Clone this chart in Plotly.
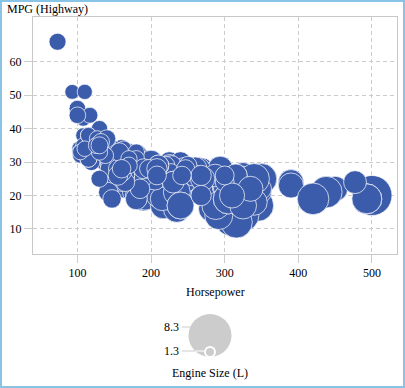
import plotly.graph_objects as go

# ---------------- data (Horsepower, MPG highway, engine size in litres) ----------------
horsepower = [
    265, 200, 200, 270, 225, 225, 290, 170, 170, 220,
    220, 220, 250, 300, 330, 340, 450, 180, 225, 250,
    184, 325, 184, 225, 184, 225, 325, 325, 438, 333,
    184, 225, 175, 205, 205, 240, 185, 275, 295, 255,
    255, 275, 275, 320, 345, 295, 295, 275, 165, 103,
    103, 140, 140, 180, 240, 145, 200, 180, 240, 190,
    185, 350, 350, 295, 175, 285, 300, 150, 180, 220,
    150, 200, 200, 250, 250, 215, 215, 230, 132, 150,
    232, 150, 215, 500, 210, 215, 310, 232, 210, 201,
    130, 130, 170, 155, 224, 193, 260, 280, 193, 231,
    143, 275, 295, 325, 190, 175, 285, 117, 127, 93,
    73, 160, 240, 240, 160, 160, 240, 240, 160, 316,
    103, 138, 138, 170, 194, 138, 172, 173, 260, 280,
    255, 340, 340, 280, 315, 192, 235, 294, 390, 294,
    390, 294, 390, 294, 195, 210, 190, 138, 104, 124,
    195, 192, 195, 282, 217, 174, 235, 235, 230, 225,
    220, 300, 215, 290, 300, 302, 300, 232, 280, 239,
    200, 148, 160, 200, 142, 197, 238, 189, 215, 349,
    302, 493, 215, 302, 221, 302, 292, 288, 275, 302,
    302, 493, 493, 192, 349, 224, 302, 210, 155, 115,
    163, 147, 210, 160, 120, 271, 215, 140, 205, 126,
    165, 175, 245, 265, 287, 240, 240, 305, 180, 245,
    305, 180, 185, 140, 175, 200, 260, 130, 185, 340,
    340, 315, 477, 315, 228, 258, 210, 220, 250, 140,
    140, 143, 108, 108, 165, 165, 227, 300, 165, 165,
    165, 155, 119, 155, 185, 165, 110, 108, 130, 157,
    210, 210, 180, 138, 130, 161, 230, 235, 325, 240,
    230, 142, 240, 115, 180, 100, 115, 115, 170, 270,
    335, 420, 310, 190, 170, 197, 247, 300, 208, 268,
    208, 268, 242, 117, 130, 100, 115, 115, 127, 140,
    130, 104, 110, 130, 126, 132, 130, 147, 155, 160,
]
mpg_highway = [
    23, 31, 29, 28, 24, 24, 24, 31, 30, 28,
    27, 27, 24, 23, 24, 20, 22, 28, 28, 28,
    23, 22, 28, 30, 28, 30, 26, 26, 21, 24,
    28, 28, 30, 29, 29, 28, 26, 22, 18, 24,
    25, 26, 26, 25, 17, 18, 18, 21, 22, 34,
    34, 37, 37, 32, 27, 33, 30, 31, 27, 20,
    25, 25, 25, 18, 24, 20, 19, 29, 27, 29,
    30, 30, 28, 27, 22, 25, 25, 19, 36, 30,
    28, 27, 24, 20, 19, 19, 13, 19, 19, 22,
    36, 35, 33, 28, 25, 29, 24, 24, 23, 18,
    28, 21, 18, 14, 20, 24, 20, 36, 37, 51,
    66, 34, 30, 25, 26, 24, 22, 25, 30, 12,
    33, 34, 32, 27, 26, 31, 29, 25, 26, 26,
    26, 23, 23, 22, 19, 26, 26, 28, 24, 28,
    24, 26, 23, 28, 21, 22, 19, 30, 32, 34,
    22, 19, 25, 16, 17, 21, 18, 16, 24, 29,
    25, 23, 25, 25, 23, 18, 18, 26, 24, 25,
    22, 34, 32, 25, 29, 23, 22, 30, 26, 21,
    22, 19, 26, 22, 27, 22, 14, 17, 24, 23,
    23, 19, 19, 29, 22, 25, 23, 20, 28, 37,
    34, 31, 28, 30, 33, 26, 19, 26, 25, 35,
    29, 30, 28, 28, 26, 24, 21, 19, 20, 24,
    19, 19, 26, 33, 29, 30, 28, 36, 25, 25,
    18, 26, 24, 26, 29, 26, 28, 29, 29, 35,
    34, 28, 38, 35, 26, 28, 27, 24, 30, 29,
    26, 31, 30, 28, 22, 24, 51, 43, 38, 33,
    29, 29, 33, 32, 36, 27, 24, 21, 17, 17,
    24, 21, 17, 31, 31, 46, 31, 31, 31, 25,
    22, 19, 20, 28, 29, 28, 28, 26, 28, 26,
    26, 20, 26, 44, 40, 44, 38, 38, 37, 37,
    25, 33, 34, 33, 35, 36, 35, 19, 26, 28,
]
engine_size = [
    3.5, 2.0, 2.4, 3.2, 3.5, 3.5, 3.2, 1.8, 1.8, 3.0,
    3.0, 3.0, 2.7, 4.2, 4.2, 4.2, 4.2, 1.8, 1.8, 3.2,
    2.5, 4.4, 2.5, 3.0, 2.5, 3.0, 4.4, 4.4, 6.0, 3.2,
    2.5, 3.0, 3.1, 3.8, 3.8, 3.8, 3.4, 4.2, 5.3, 3.6,
    3.6, 4.6, 4.6, 4.6, 6.0, 5.3, 4.8, 4.2, 2.5, 1.6,
    1.6, 2.2, 2.2, 3.4, 3.8, 2.2, 3.5, 3.4, 3.8, 4.3,
    3.4, 5.7, 5.7, 5.3, 2.8, 4.8, 5.3, 2.4, 2.4, 2.4,
    2.4, 2.7, 2.7, 3.5, 3.5, 3.8, 3.2, 4.7, 2.0, 2.4,
    3.5, 2.4, 3.8, 8.3, 3.7, 3.7, 6.8, 4.6, 4.0, 3.0,
    2.0, 2.0, 2.0, 3.0, 4.6, 3.8, 4.6, 3.9, 3.9, 4.6,
    2.3, 4.2, 5.3, 6.0, 4.3, 2.8, 4.8, 1.7, 1.7, 1.4,
    2.0, 2.4, 3.0, 2.2, 2.4, 2.4, 3.5, 3.5, 2.0, 6.0,
    1.6, 2.0, 2.4, 2.7, 3.5, 2.0, 2.7, 2.7, 3.5, 3.5,
    3.5, 4.5, 4.5, 3.5, 4.5, 2.5, 3.0, 4.2, 4.2, 4.2,
    4.2, 4.2, 4.2, 4.2, 4.0, 3.7, 4.0, 2.4, 1.6, 1.8,
    3.5, 3.5, 3.5, 4.4, 4.6, 2.5, 4.7, 4.7, 3.3, 3.3,
    3.0, 4.3, 3.0, 4.3, 4.3, 4.6, 5.4, 3.0, 3.9, 4.6,
    3.0, 2.0, 2.3, 3.0, 1.8, 1.3, 1.3, 1.8, 3.2, 3.2,
    5.0, 5.5, 3.2, 5.0, 3.2, 5.0, 5.0, 5.0, 4.3, 5.0,
    5.0, 5.5, 5.5, 2.3, 3.2, 4.6, 4.6, 4.0, 3.0, 1.6,
    1.6, 2.4, 3.0, 2.4, 2.0, 2.0, 3.8, 2.4, 3.5, 1.8,
    2.5, 2.5, 3.5, 3.5, 3.5, 3.5, 3.5, 5.6, 3.3, 3.5,
    5.6, 3.3, 3.4, 2.2, 3.4, 3.8, 3.8, 1.8, 3.4, 5.7,
    4.5, 3.6, 3.6, 3.6, 2.7, 3.2, 2.0, 2.3, 2.3, 2.2,
    2.2, 2.2, 1.5, 1.5, 2.5, 2.5, 2.0, 2.5, 2.5, 2.5,
    2.5, 2.3, 2.0, 2.5, 2.7, 2.5, 1.5, 1.5, 1.8, 2.4,
    3.0, 3.0, 1.8, 1.8, 1.8, 2.4, 3.3, 4.7, 4.7, 4.7,
    3.3, 2.7, 4.7, 1.8, 1.8, 1.9, 2.0, 2.0, 1.8, 4.0,
    4.2, 6.0, 4.2, 2.8, 1.9, 2.4, 2.3, 2.5, 2.9, 2.9,
    2.5, 2.9, 2.4, 1.7, 1.8, 1.9, 1.7, 1.7, 1.7, 2.2,
    2.0, 1.6, 1.6, 1.8, 1.8, 2.0, 2.0, 2.4, 2.7, 2.4,
]
legend_values = [8.3, 1.3]
legend_labels = ["8.3", "1.3"]
x_ticks = [100, 200, 300, 400, 500]
y_ticks = [10, 20, 30, 40, 50, 60]

# ---------------- geometry helpers ----------------
W, H = 405, 388
ML, MR, MT, MB = 33, 8, 17, 8
PW, PH = W - ML - MR, H - MT - MB


def pxx(px):
    return (px - ML) / PW


def pxy(py):
    return (H - MB - py) / PH


V_MIN, V_MAX = min(legend_values), max(legend_values)


def bubble_diam(v):
    # chart bubble diameter (px) grows linearly with engine size
    return 14.5 + (v - V_MIN) * 3.65


def legend_diam(v):
    return 10 + (v - V_MIN) / (V_MAX - V_MIN) * 33


BLUE = "#3b5bab"
GRID = "#cccccc"
FONT = "Liberation Serif, Times New Roman, Times, serif"

fig = go.Figure()
fig.add_trace(go.Scatter(
    x=horsepower, y=mpg_highway, mode="markers",
    marker=dict(size=[bubble_diam(v) for v in engine_size], sizemode="diameter",
                color=BLUE, opacity=1,
                line=dict(color="rgba(255,255,255,0.7)", width=1)),
    hoverinfo="skip", showlegend=False, xaxis="x", yaxis="y"))

# size legend (bubbles bottom-aligned on a baseline)
baseline = 357
leg_d = [legend_diam(v) for v in legend_values]
fig.add_trace(go.Scatter(
    x=[210, 210], y=[baseline - d / 2 for d in leg_d], mode="markers",
    marker=dict(size=leg_d, sizemode="diameter", color="#cccccc", opacity=1,
                line=dict(color="white", width=[0, 2])),
    hoverinfo="skip", showlegend=False, xaxis="x2", yaxis="y2"))

axis_common = dict(
    showgrid=True, gridcolor=GRID, griddash="4px,3px", gridwidth=1,
    showline=True, linecolor="#c8c8c8", linewidth=1, mirror=True,
    ticks="outside", ticklen=8, tickcolor=GRID,
    tickfont=dict(family=FONT, size=12, color="#000"), zeroline=False,
    automargin=False)

fig.update_layout(
    width=W, height=H,
    margin=dict(l=ML, r=MR, t=MT, b=MB, pad=0, autoexpand=False),
    paper_bgcolor="white", plot_bgcolor="white",
    font=dict(family=FONT, size=12, color="#000"),
    showlegend=False, hovermode=False,
    xaxis=dict(domain=[0, 1], range=[39.7, 534], tickvals=x_ticks, anchor="y", **axis_common),
    yaxis=dict(domain=[pxy(254), 1], range=[2.5, 73.4], tickvals=y_ticks, anchor="x", **axis_common),
    xaxis2=dict(domain=[pxx(150), pxx(270)], range=[150, 270], visible=False, anchor="y2"),
    yaxis2=dict(domain=[pxy(365), pxy(305)], range=[365, 305], visible=False, anchor="x2"),
)

# legend leader lines
r_big = leg_d[0] / 2
cy_big = baseline - r_big
label_y = [327, 351]
shapes = []
for i, ly in enumerate(label_y):
    edge = 210 - (max(r_big ** 2 - (ly - cy_big) ** 2, 0)) ** 0.5
    shapes.append(dict(type="line", xref="x2", yref="y2", x0=182, x1=edge, y0=ly, y1=ly,
                       line=dict(color="#cccccc", width=1)))
    if i == 1:
        shapes.append(dict(type="line", xref="x2", yref="y2", x0=edge, x1=210 - leg_d[1] / 2 - 1,
                           y0=ly, y1=ly, line=dict(color="white", width=1)))
# outer frame
shapes.append(dict(type="rect", xref="paper", yref="paper",
                   x0=pxx(1), x1=pxx(404), y0=pxy(387), y1=pxy(1),
                   line=dict(color="#89c4e6", width=2), fillcolor="rgba(0,0,0,0)"))
fig.update_layout(shapes=shapes)

annotations = [
    dict(text="MPG (Highway)", xref="paper", yref="paper", x=pxx(5), y=pxy(9),
         xanchor="left", yanchor="middle", showarrow=False, font=dict(size=12)),
    dict(text="Horsepower", xref="paper", yref="paper", x=0.5, y=pxy(292),
         xanchor="center", yanchor="middle", showarrow=False, font=dict(size=12)),
    dict(text="Engine Size (L)", xref="paper", yref="paper", x=pxx(210), y=pxy(373),
         xanchor="center", yanchor="middle", showarrow=False, font=dict(size=12)),
]
for lab, ly in zip(legend_labels, label_y):
    annotations.append(dict(text=lab, xref="x2", yref="y2", x=181, y=ly,
                            xanchor="right", yanchor="middle", showarrow=False,
                            font=dict(size=12)))
fig.update_layout(annotations=annotations)

fig.write_html("out.html", config={"displayModeBar": False},
               post_script="document.body.style.margin='0px';")
